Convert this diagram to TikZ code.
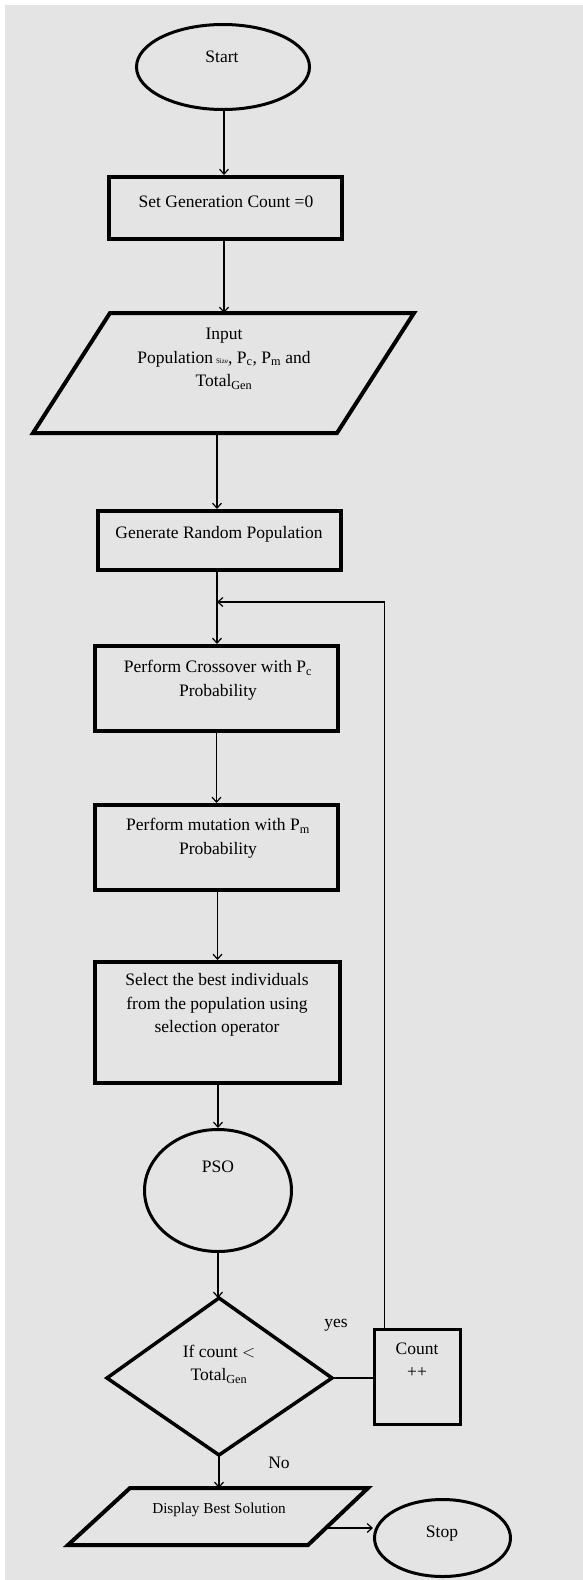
\documentclass[tikz,border=0pt]{standalone}
\usepackage{fontspec}
\setmainfont{Liberation Serif}
\usetikzlibrary{arrows.meta,shapes.geometric}
\definecolor{bggray}{HTML}{E4E4E4}
\begin{document}
\begin{tikzpicture}[x=1pt,y=-1pt,
  box/.style={draw, line width=4pt, rectangle, inner sep=0pt},
  oval/.style={draw, line width=3pt, ellipse, inner sep=0pt},
  txt/.style={inner sep=0pt, align=center, font=\fontsize{17.5}{23.5}\selectfont},
  smalltxt/.style={inner sep=0pt, align=center, font=\fontsize{15.2}{20}\selectfont},
  arr/.style={line width=1.2pt, -{Straight Barb[length=5pt,width=9pt,line width=1.2pt]}},
  conn/.style={line width=1.2pt}]
\useasboundingbox (0,0) rectangle (583,1580);
\fill[white] (0,0) rectangle (583,1580);
\fill[bggray] (5,5) rectangle (583,1580);

% shapes
\node[oval, minimum width=173pt, minimum height=85pt] (start) at (223,67) {};
\node[box, minimum width=233pt, minimum height=62pt] (set) at (225.5,208) {};
% input parallelogram
\coordinate (inTop) at (224,313);
\coordinate (inBot) at (217,433);
\draw[line width=4pt, line join=miter] (110,313) -- (414,313) -- (337,433) -- (33,433) -- cycle;
\node[box, minimum width=243pt, minimum height=59pt] (gen) at (219.5,540.5) {};
\node[box, minimum width=243pt, minimum height=85pt] (cross) at (216.5,688.5) {};
\node[box, minimum width=243pt, minimum height=85pt] (mut) at (216.5,847.5) {};
\node[box, minimum width=245pt, minimum height=121pt] (sel) at (217.5,1022.5) {};
\node[oval, minimum width=147pt, minimum height=122pt] (pso) at (218,1190.5) {};
% decision diamond
\coordinate (dTop) at (219,1298);
\coordinate (dR) at (332,1378);
\coordinate (dBot) at (219,1455);
\coordinate (dL) at (107,1378);
\draw[line width=3.5pt, line join=miter] (dTop) -- (dR) -- (dBot) -- (dL) -- cycle;
\node[box, line width=3.5pt, minimum width=86pt, minimum height=95pt] (count) at (417.5,1377) {};
% display parallelogram
\coordinate (dispTop) at (219,1488);
\coordinate (dispR) at (328,1528);
\draw[line width=4pt, line join=miter] (130,1488) -- (368,1488) -- (308,1545) -- (68,1545) -- cycle;
\node[oval, minimum width=136pt, minimum height=77pt] (stop) at (442.5,1538) {};
\coordinate (loopJ) at (217,602);

% texts
\node[txt, anchor=base] (tstart) at (222,62) {Start};
\node[txt, anchor=base] (tset) at (226,207) {Set Generation Count =0};
\node[txt] (tin) at (224,359) {Input\\Population\,{\scriptsize Size}, P\textsubscript{c}, P\textsubscript{m} and\\Total\textsubscript{Gen}};
\node[txt, anchor=base] (tgen) at (219,538) {Generate Random Population};
\node[txt] (tcross) at (218,680) {Perform Crossover with P\textsubscript{c}\\Probability};
\node[txt] (tmut) at (218,838) {Perform mutation with P\textsubscript{m}\\Probability};
\node[txt] (tsel) at (217,1005) {Select the best individuals\\from the population using\\selection operator};
\node[txt, anchor=base] (tpso) at (218,1172) {PSO};
\node[txt] (tdec) at (219,1364) {If count $<$\\Total\textsubscript{Gen}};
\node[txt] (tcount) at (417,1360) {Count\\++};
\node[smalltxt, anchor=base] (tdisp) at (219,1513) {Display Best Solution};
\node[txt, anchor=base] (tstop) at (442,1537) {Stop};
\node[txt, anchor=base] (tyes) at (336,1327) {yes};
\node[txt, anchor=base] (tno) at (279,1468) {No};

% connectors
\draw[arr] (start.south -| inTop) -- (set.north -| inTop);
\draw[arr] (set.south -| inTop) -- (inTop);
\draw[arr] (inBot) -- (inBot |- gen.north);
\draw[arr] (gen.south -| loopJ) -- (loopJ |- cross.north);
\draw[arr] (cross.south) -- (mut.north);
\draw[arr] (mut.south -| sel.north) -- (sel.north);
\draw[arr] (sel.south -| pso.north) -- (pso.north);
\draw[arr] (pso.south) -- (pso.south |- dTop);
\draw[arr] (dBot) -- (dispTop);
\draw[conn] (dR) -- (dR -| count.west);
\draw[arr] ([xshift=12pt]count.north west) |- (loopJ);
\draw[arr] (dispR) -- (dispR -| stop.west);
\end{tikzpicture}
\end{document}
